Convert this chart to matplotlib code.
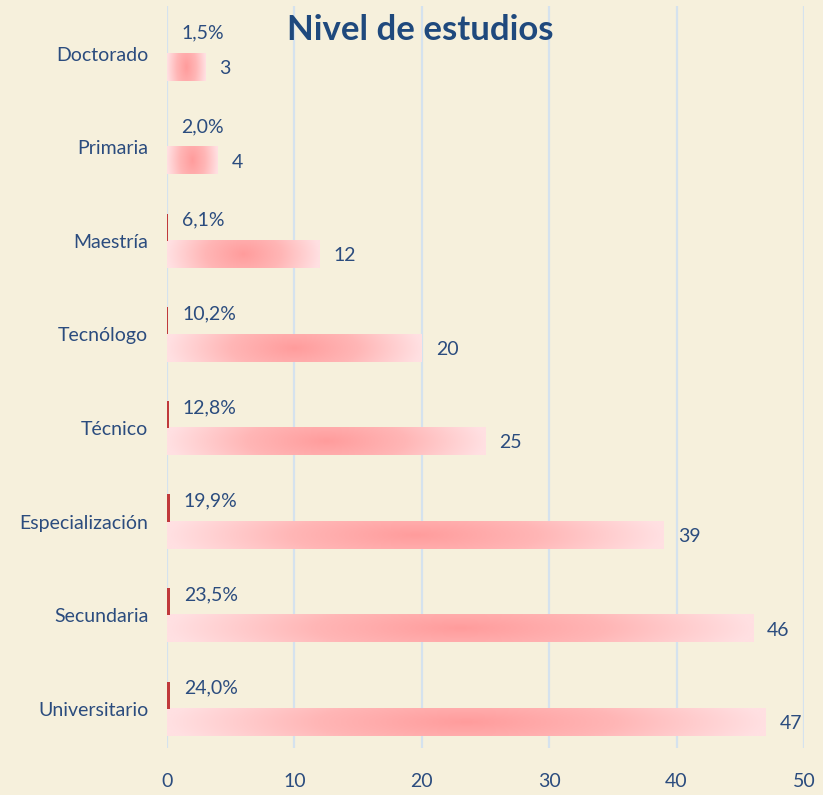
import numpy as np
import matplotlib.pyplot as plt
from matplotlib.colors import LinearSegmentedColormap

# data (bottom to top)
categories = ['Universitario', 'Secundaria', 'Especialización', 'Técnico',
              'Tecnólogo', 'Maestría', 'Primaria', 'Doctorado']
counts = [47, 46, 39, 25, 20, 12, 4, 3]
pcts = [0.240, 0.235, 0.199, 0.128, 0.102, 0.061, 0.020, 0.015]
pct_labels = ['24,0%', '23,5%', '19,9%', '12,8%', '10,2%', '6,1%', '2,0%', '1,5%']

bg = '#F6F0DC'
txt = '#2B4C7E'
plt.rcParams['font.family'] = ['Lato', 'DejaVu Sans']

fig = plt.figure(figsize=(8.23, 7.95), dpi=100, facecolor=bg)
ax = fig.add_axes([0.2029, 0.0591, 0.774, 0.9334], facecolor=bg)

bar_h = 0.29
cmap = LinearSegmentedColormap.from_list('pk', ['#FF9C9C', '#FFB6B6', '#FFE0E2'])

# path-style gradient (dark centre, light edges)
gx = np.linspace(-1, 1, 240)
gy = np.linspace(-1, 1, 40)
GX, GY = np.meshgrid(gx, gy)
grad = np.clip(np.sqrt(GX ** 2 + (0.3 * GY) ** 2), 0, 1)

y = np.arange(len(categories))
for i, c in enumerate(counts):
    yc = i - bar_h / 2
    ax.imshow(grad, cmap=cmap, vmin=0, vmax=1, aspect='auto',
              interpolation='bilinear',
              extent=(0, c, yc - bar_h / 2, yc + bar_h / 2), zorder=2)

ax.barh(y + bar_h / 2, pcts, height=bar_h, color='#C0393B', zorder=3)

for i, (c, p, lab) in enumerate(zip(counts, pcts, pct_labels)):
    ax.annotate(str(c), (c, i - bar_h / 2), xytext=(10, -1), textcoords='offset points',
                color=txt, fontsize=14, va='center', ha='left')
    ax.annotate(lab, (p, i + bar_h / 2), xytext=(10, 5), textcoords='offset points',
                color=txt, fontsize=14, va='center', ha='left')

ax.set_xlim(0, 50)
ax.set_ylim(-0.42, 7.51)
ax.set_xticks(range(0, 51, 10))
ax.set_yticks(y)
ax.set_yticklabels(categories)
ax.tick_params(axis='both', length=0, labelsize=14, labelcolor=txt)
ax.tick_params(axis='y', pad=13.5)
ax.tick_params(axis='x', pad=18)
ax.grid(axis='x', color='#D5E2EE', linewidth=1.6, zorder=0)
ax.set_axisbelow(True)
for s in ax.spines.values():
    s.set_visible(False)

fig.text(0.511, 0.962, 'Nivel de estudios', ha='center', va='center',
         fontsize=25, fontweight='bold', color='#1F497D')

fig.savefig('out.png', dpi=100, facecolor=bg)
